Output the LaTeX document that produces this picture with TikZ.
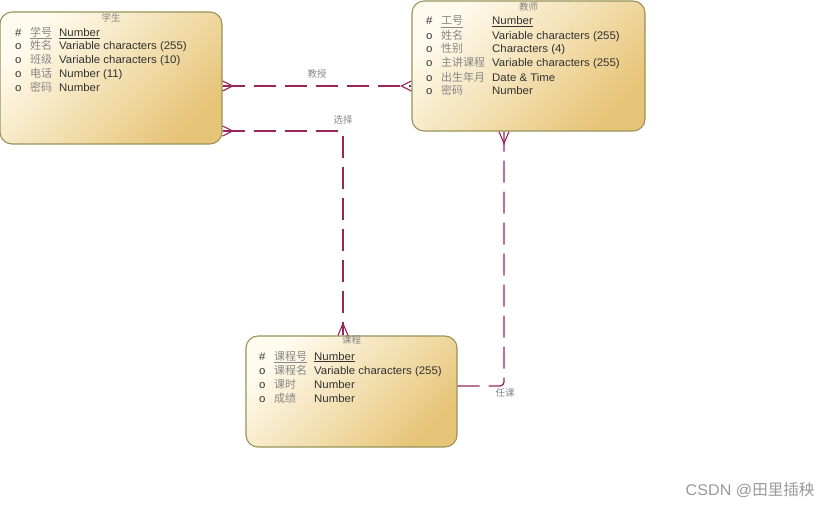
\documentclass[tikz,border=0pt]{standalone}
\usepackage{fontspec}
\setmainfont{Liberation Sans}[FakeStretch=1.04]
\newfontfamily\cjk{Noto Sans CJK SC}
\usetikzlibrary{arrows.meta,calc}

\definecolor{relcol}{RGB}{150,38,92}
\definecolor{boxline}{RGB}{150,148,90}
\definecolor{boxlight}{RGB}{255,251,238}
\definecolor{boxdark}{RGB}{231,197,120}
\definecolor{cngray}{RGB}{135,135,135}
\definecolor{entxt}{RGB}{50,50,50}

\newcommand{\zh}[1]{{\cjk\color{cngray}#1}}
\newcommand{\fld}[4]{\makebox[15pt][l]{#1}\makebox[#4][l]{\zh{#2}}#3}

\begin{document}
\begin{tikzpicture}[x=1pt,y=-1pt,
  ent/.style={draw=boxline,line width=1.1pt,rounded corners=12pt,top color=boxlight,bottom color=boxdark,shading angle=45,inner sep=0pt},
  row/.style={anchor=west,inner sep=0pt,font=\fontsize{11}{12}\selectfont,text=entxt},
  ttl/.style={inner sep=0pt,font=\cjk\fontsize{9.5}{10}\selectfont,text=cngray},
  rel/.style={draw=relcol,line width=1.3pt,dash pattern=on 22pt off 9pt,rounded corners=4pt},
  foot/.style={draw=relcol,line width=1.1pt,solid},
  lbl/.style={inner sep=0pt,font=\cjk\fontsize{9.5}{10}\selectfont,text=cngray}]
           \useasboundingbox (0,0) rectangle (833,508);

           \node[ent,minimum width=222pt,minimum height=132pt] (stu) at (111,78) {};
           \node[ent,minimum width=233pt,minimum height=130pt] (tea) at (528.5,66) {};
           \node[ent,minimum width=211pt,minimum height=111pt] (crs) at (351.5,391.5) {};

           \node[ttl] (stuT) at ([yshift=-6pt]stu.north) {学生};
           \node[row] (stu1) at (15,33) {\fld{\#}{\underline{学号}}{\underline{Number}}{29pt}};
           \node[row] (stu2) at (15,46) {\fld{o}{姓名}{Variable characters (255)}{29pt}};
           \node[row] (stu3) at (15,60) {\fld{o}{班级}{Variable characters (10)}{29pt}};
           \node[row] (stu4) at (15,74) {\fld{o}{电话}{Number (11)}{29pt}};
           \node[row] (stu5) at (15,87) {\fld{o}{密码}{Number}{29pt}};

           \node[ttl] (teaT) at ([yshift=-6pt]tea.north) {教师};
           \node[row] (tea1) at (426,22) {\fld{\#}{\underline{工号}}{\underline{Number}}{51pt}};
           \node[row] (tea2) at (426,36) {\fld{o}{姓名}{Variable characters (255)}{51pt}};
           \node[row] (tea3) at (426,49) {\fld{o}{性别}{Characters (4)}{51pt}};
           \node[row] (tea4) at (426,63) {\fld{o}{主讲课程}{Variable characters (255)}{51pt}};
           \node[row] (tea5) at (426,77) {\fld{o}{出生年月}{Date \& Time}{51pt}};
           \node[row] (tea6) at (426,90) {\fld{o}{密码}{Number}{51pt}};

           \node[ttl] (crsT) at ([yshift=-5pt]crs.north) {课程};
           \node[row] (crs1) at (259,357) {\fld{\#}{\underline{课程号}}{\underline{Number}}{40pt}};
           \node[row] (crs2) at (259,371) {\fld{o}{课程名}{Variable characters (255)}{40pt}};
           \node[row] (crs3) at (259,384) {\fld{o}{课时}{Number}{40pt}};
           \node[row] (crs4) at (259,398) {\fld{o}{成绩}{Number}{40pt}};

           \coordinate (jS) at ([yshift=-8pt]stu.east);
           \coordinate (jT) at ([yshift=-20pt]tea.west);
           \coordinate (xS) at ([yshift=-53pt]stu.east);
           \coordinate (xC) at ([xshift=-8.5pt]crs.north);
           \coordinate (rC) at ([yshift=5.5pt]crs.east);
           \coordinate (rT) at ([xshift=-24.5pt]tea.south);

           \draw[rel] (jS) -- node[lbl,above=7pt] (jL) {教授} (jT);
           \draw[rel] (xS) -| node[lbl,pos=0.5,above=6pt] (xL) {选择} (xC);
           \draw[rel] (rC) -| node[lbl,pos=0.5,below=2pt,xshift=1pt] (rL) {任课} (rT);

           \draw[foot] ($(jS)+(0,-5)$) -- ($(jS)+(10,0)$) -- ($(jS)+(0,5)$);
           \draw[foot] ($(jT)+(0,-5)$) -- ($(jT)+(-10,0)$) -- ($(jT)+(0,5)$);
           \draw[foot] ($(xS)+(0,-5)$) -- ($(xS)+(10,0)$) -- ($(xS)+(0,5)$);
           \draw[foot] ($(xC)+(-5,0)$) -- ($(xC)+(0,-12)$) -- ($(xC)+(5,0)$);
           \draw[foot] ($(rT)+(-5,0)$) -- ($(rT)+(0,12)$) -- ($(rT)+(5,0)$);

           \node[inner sep=0pt,text=black!40,font=\fontsize{15.5}{17}\selectfont] (wm) at (750,490) {CSDN @{\cjk 田里插秧}};
         \end{tikzpicture}
\end{document}
